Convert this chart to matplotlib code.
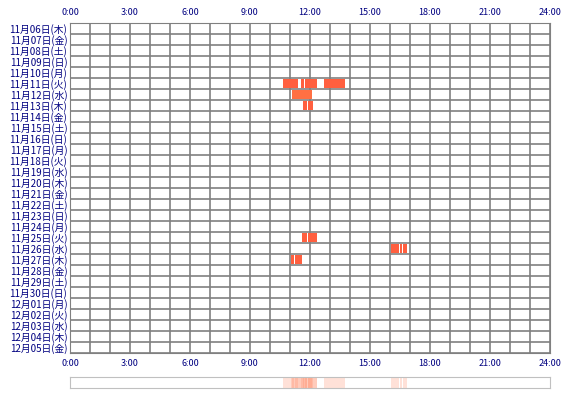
import matplotlib
matplotlib.use("Agg")
import matplotlib.pyplot as plt
import datetime as dt

plt.rcParams['font.family'] = ['Noto Sans CJK JP', 'DejaVu Sans']

start = dt.date(2014, 11, 6)
n_days = 30
weekdays = ["月", "火", "水", "木", "金", "土", "日"]
day_labels = []
for i in range(n_days):
    d = start + dt.timedelta(days=i)
    day_labels.append(f"{d.month}月{d.day:02d}日({weekdays[d.weekday()]})")

# sessions: (day index, start hour, end hour)
sessions = [
    (5, 10.63, 11.40), (5, 11.55, 11.68), (5, 11.75, 12.35),
    (5, 12.68, 12.75), (5, 12.77, 13.75),
    (6, 11.08, 12.08),
    (7, 11.63, 11.87), (7, 11.92, 12.15),
    (19, 11.60, 11.85), (19, 11.90, 12.35),
    (20, 16.05, 16.43), (20, 16.48, 16.62), (20, 16.67, 16.83),
    (21, 11.03, 11.18), (21, 11.23, 11.60),
]
tick_hours = [0, 3, 6, 9, 12, 15, 18, 21, 24]

fig = plt.figure(figsize=(5.7, 4.0), dpi=100)
ax = fig.add_axes([70/570, 47/400, 480/570, 330/400])
ax.set_xlim(0, 24)
ax.set_ylim(n_days, 0)
for h in range(25):
    ax.axvline(h, color="#808080", lw=1.2, zorder=1)
for r in range(n_days + 1):
    ax.axhline(r, color="#808080", lw=1.2, zorder=1)
for day, s, e in sessions:
    c = "#ff7043" if day == 6 else "#ff5f3f"
    ax.barh(day + 0.5, e - s, left=s, height=0.9, color=c, zorder=2)
ax.set_xticks(tick_hours)
ax.set_xticklabels([f"{h}:00" for h in tick_hours], color="#000080", fontsize=6.5)
ax.tick_params(axis="x", top=True, labeltop=True, length=0, pad=4)
ax.set_yticks([i + 0.5 for i in range(n_days)])
ax.set_yticklabels(day_labels, color="#000080", fontsize=7)
ax.tick_params(axis="y", length=0, pad=2)
for sp in ax.spines.values():
    sp.set_color("#808080")

# summary strip
ax2 = fig.add_axes([70/570, 12/400, 480/570, 11/400])
ax2.set_xlim(0, 24)
ax2.set_ylim(0, 1)
for day, s, e in sessions:
    ax2.axvspan(s, e, color="#ff8a65", alpha=0.25, lw=0)
ax2.set_xticks([])
ax2.set_yticks([])
for sp in ax2.spines.values():
    sp.set_color("#c0c0c0")

fig.savefig("out.png", dpi=100, facecolor="white")
